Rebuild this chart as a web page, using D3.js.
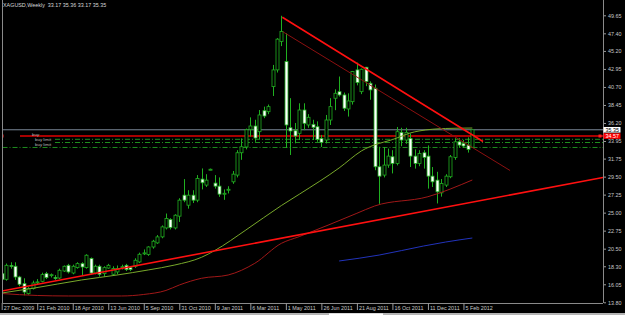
<!DOCTYPE html>
<html><head><meta charset="utf-8">
<script src="https://cdn.jsdelivr.net/npm/d3@7"></script>
<style>body{margin:0;background:#000}svg{display:block}</style>
</head><body><svg id="c" width="625" height="315"></svg>
<script>
const title = "XAGUSD,Weekly  33.17 35.36 33.17 35.35";
const opens  = [17.38,16.67,18.4,18.30,16.96,16.13,14.88,15.51,16.3,16.42,17.38,17.2,16.9,16.83,17.71,18.42,17.46,18.13,18.63,18.13,19.26,17.46,18.30,17.38,18.08,17.30,17.59,18.2,18.42,18.13,18.30,18.84,19.9,19.76,20.71,21.22,21.97,23.09,24.14,23.09,24.56,27.18,25.93,27.18,26.56,29.19,28.44,30.40,28.69,28.31,27.4,27.88,28.85,29.69,32.48,33.2,35.41,35.82,35.11,37.73,37.61,40.74,42.83,46.37,43.87,35.6,35.23,34.91,37.82,35.95,36.03,35.73,34.28,34.07,36.57,39.29,40.11,39.70,37.95,38.86,42.83,40.11,43.16,41.16,40.54,30.73,29.69,30.94,31.98,31.15,35.03,34.07,34.28,32.06,31.15,32.48,32.06,29.56,29.06,27.47,28.44,29.48,31.9,33.85,33.65,33.44,33.17];
const highs  = [17.6,18.64,18.8,18.8,17.1,16.8,15.7,16.5,16.7,17.5,17.6,17.4,17.2,18.0,18.4,18.6,18.5,18.8,18.8,19.8,19.4,18.5,18.5,18.3,18.6,18.3,18.4,18.5,18.6,18.3,19.3,20.0,20.4,20.8,21.6,22.2,23.4,24.89,24.3,24.8,26.8,29.19,27.8,27.8,29.69,30.52,29.8,30.5,29.69,29.4,27.9,28.3,30.2,32.8,34.28,35.5,36.9,36.6,37.82,38.24,38.5,43.45,46.8,49.59,47.4,39.3,36.2,38.66,38.66,37.3,36.6,36.4,34.7,37.2,39.3,40.4,42.0,40.0,39.9,42.7,43.74,43.0,43.2,41.4,41.0,33.23,33.2,33.0,32.8,35.7,35.6,35.6,34.9,32.9,32.8,32.8,33.4,30.7,30.1,29.2,29.8,32.2,34.3,34.3,34.1,34.4,35.36];
const lows   = [16.5,16.5,18.0,16.6,15.8,14.67,14.75,15.4,16.0,16.3,16.7,16.9,16.6,16.7,17.6,17.4,17.3,18.0,17.2,18.0,17.3,17.3,17.0,17.0,18.0,17.2,17.3,17.9,17.7,17.7,18.1,18.7,19.7,19.6,20.5,21.1,21.8,22.9,22.9,22.9,23.84,26.3,25.5,26.2,26.3,27.9,28.2,30.3,28.0,26.97,26.6,27.4,28.6,29.4,31.6,32.9,34.5,33.85,34.2,36.8,37.3,39.57,42.5,45.8,33.07,32.2,33.66,34.07,35.3,35.6,34.07,33.85,33.2,33.65,35.95,37.8,39.5,37.7,37.0,38.5,40.9,39.8,40.8,39.1,30.3,26.1,29.4,30.6,29.9,30.9,33.3,33.6,30.7,30.5,30.8,30.5,28.0,28.2,26.15,27.0,28.2,29.3,31.6,33.1,33.1,32.5,33.17];
const closes = [16.67,18.42,18.3,16.96,16.05,15.08,15.51,16.21,16.35,17.26,16.88,17.25,16.85,17.80,18.30,17.59,18.30,18.63,18.21,19.68,17.46,18.30,17.30,18.13,18.42,18.01,18.01,18.25,17.88,17.88,19.05,19.80,19.97,20.71,21.43,21.97,23.22,24.27,23.14,24.68,26.56,26.56,27.18,26.56,29.27,28.73,29.06,30.42,28.31,27.31,27.42,27.92,29.81,32.48,33.23,35.35,35.82,34.32,37.20,37.07,38.24,42.83,46.67,47.62,35.95,35.2,34.57,37.82,36.16,36.91,35.66,34.16,33.78,36.57,38.24,39.91,39.70,38.04,38.95,42.62,41.24,42.91,41.37,40.33,30.73,29.56,30.94,32.06,31.15,35.11,34.07,35.03,32.06,31.15,32.4,31.9,29.56,28.85,27.6,28.65,29.56,31.98,33.85,33.44,33.32,32.9,35.35];

const dateTickBars   = [0,8,16,24,32,40,48,56,64,72,80,88,96,104];
const dateTickLabels = ["27 Dec 2009","21 Feb 2010","18 Apr 2010","13 Jun 2010","5 Sep 2010","31 Oct 2010","9 Jan 2011","6 Mar 2011","1 May 2011","26 Jun 2011","21 Aug 2011","16 Oct 2011","11 Dec 2011","5 Feb 2012"];
const priceTickLabels = ["49.65","47.40","45.20","42.95","40.70","38.45","36.20","33.95","31.75","29.50","27.25","25.00","22.75","20.50","18.30","16.05","13.80"];

// moving averages [bar, value]
const maFast = [[0,14.96],[7,15.55],[18,16.59],[26,17.21],[33,17.84],[39,18.46],[45,19.42],[48,20.27],[55,22.83],[63,25.89],[67,27.29],[76,30.58],[81,32.70],[89,34.32],[92,34.95],[94,35.20],[100,35.51],[106,35.57]];
const maSlow = [[0,14.90],[8,14.65],[15,14.59],[27,14.59],[32,14.78],[37,15.28],[40,15.96],[45,16.80],[51,17.21],[57,18.67],[63,21.17],[67,22.00],[80,24.92],[84,25.83],[96,26.99],[106,29.08]];
const maLong = [[76,18.96],[85,19.70],[95,20.83],[100,21.33],[106,21.83]];

// drawn objects [bar, price]
const resistanceLine = [[63.2,49.40],[108.4,33.89]];
const channelLine    = [[63.3,47.60],[114.5,30.26]];
const supportLine    = [[0,15.20],[135,29.35]];
const bidPrice = 35.35;
const redLevel = 34.57;
const orderLevels = [34.16,33.76,33.14];
const orderLabels = ["buy","buy limit","buy limit"];

const svg = d3.select("#c");
svg.append("rect").attr("width",625).attr("height",315).attr("fill","#000");

const x = d3.scaleLinear().domain([0,135]).range([1.7,601.1]);
const y = d3.scaleLinear().domain([13.80,49.65]).range([302.3,15.3]);
const L = 2.5, R = 603, B = 303;
const font = "Liberation Sans, Arial, sans-serif";

svg.append("clipPath").attr("id","clip").append("rect").attr("x",L).attr("y",0).attr("width",R-L).attr("height",B);
const g = svg.append("g").attr("clip-path","url(#clip)");

// horizontal levels
g.append("line").attr("x1",L).attr("x2",R).attr("y1",y(bidPrice)).attr("y2",y(bidPrice)).attr("stroke","#7a8898").attr("stroke-width",1);
orderLevels.forEach((v,i)=>{
  g.append("line").attr("x1", i<2?55:L).attr("x2",R).attr("y1",y(v)).attr("y2",y(v))
   .attr("stroke","#1e8c1e").attr("stroke-width",1).attr("stroke-dasharray","5,2,1,2");
});
g.append("line").attr("x1",20).attr("x2",R).attr("y1",y(redLevel)).attr("y2",y(redLevel)).attr("stroke","#e00000").attr("stroke-width",1.6);
g.append("rect").attr("x",0.5).attr("y",y(redLevel)-1.5).attr("width",3).attr("height",3).attr("fill","#ff2020");
g.append("rect").attr("x",598.5).attr("y",y(redLevel)-1.5).attr("width",3).attr("height",3).attr("fill","#ff2020");
orderLabels.forEach((t,i)=>{
  g.append("text").attr("x", i===0?32:35).attr("y", [134.3,139.3,144.3][i]).attr("dy","0.35em")
   .attr("font-family",font).attr("font-size","4.4px").attr("fill","#b8b8b8").text(t);
});

// candles
const bars = d3.range(opens.length);
const cw = 3;
g.selectAll(".wick").data(bars).join("line")
  .attr("x1",i=>Math.round(x(i))+0.5).attr("x2",i=>Math.round(x(i))+0.5)
  .attr("y1",i=>y(highs[i])).attr("y2",i=>y(lows[i]))
  .attr("stroke","#20b020").attr("stroke-width",1);
g.selectAll(".body").data(bars).join("rect")
  .attr("x",i=>Math.round(x(i))+0.5-cw/2).attr("width",cw)
  .attr("y",i=>y(Math.max(opens[i],closes[i])))
  .attr("height",i=>Math.max(1,Math.abs(y(opens[i])-y(closes[i]))))
  .attr("fill",i=>closes[i]>=opens[i]?"#000":"#ffffff")
  .attr("stroke","#20b020").attr("stroke-width",0.8);

// moving averages
const ln = d3.line().x(d=>x(d[0])).y(d=>y(d[1])).curve(d3.curveMonotoneX);
g.append("path").attr("d",ln(maSlow)).attr("fill","none").attr("stroke","#a01818").attr("stroke-width",1);
g.append("path").attr("d",ln(maFast)).attr("fill","none").attr("stroke","#78a82a").attr("stroke-width",1);
g.append("path").attr("d",ln(maLong)).attr("fill","none").attr("stroke","#2233bb").attr("stroke-width",1);

// trend lines
const seg = d3.line().x(d=>x(d[0])).y(d=>y(d[1]));
g.append("path").attr("d",seg(channelLine)).attr("stroke","#8c1010").attr("stroke-width",1).attr("fill","none");
g.append("path").attr("d",seg(resistanceLine)).attr("stroke","#ff1010").attr("stroke-width",1.6).attr("fill","none");
const sl = (supportLine[1][1]-supportLine[0][1])/(supportLine[1][0]-supportLine[0][0]);
const b0 = x.invert(0), b1 = x.invert(R);
g.append("path").attr("d",seg([[b0,supportLine[0][1]+sl*(b0-supportLine[0][0])],[b1,supportLine[0][1]+sl*(b1-supportLine[0][0])]]))
  .attr("stroke","#ff1010").attr("stroke-width",1.6).attr("fill","none");

// frame
svg.append("line").attr("x1",L).attr("x2",L).attr("y1",0).attr("y2",B).attr("stroke","#8a8a8a");
svg.append("line").attr("x1",R+0.5).attr("x2",R+0.5).attr("y1",0).attr("y2",B).attr("stroke","#8a8a8a");
svg.append("line").attr("x1",L).attr("x2",R).attr("y1",B+0.5).attr("y2",B+0.5).attr("stroke","#8a8a8a");

// price axis
const ya = d3.axisRight(y).tickValues(priceTickLabels.map(Number)).tickFormat((d,i)=>priceTickLabels[i]).tickSize(2).tickPadding(2);
const yg = svg.append("g").attr("transform",`translate(${R+1},0)`).call(ya);
yg.select(".domain").remove();
yg.selectAll("line").attr("stroke","#9a9a9a");
yg.selectAll("text").attr("fill","#c8c8c8").attr("font-family",font).attr("font-size","5.4px");

// price boxes
svg.append("rect").attr("x",R+0.5).attr("y",y(bidPrice)-2.8).attr("width",17).attr("height",5.6).attr("fill","#ffffff");
svg.append("text").attr("x",R+2.5).attr("y",y(bidPrice)).attr("dy","0.35em").attr("font-family",font).attr("font-size","5.4px").attr("fill","#000").text(bidPrice.toFixed(2));
svg.append("rect").attr("x",R+0.5).attr("y",y(redLevel)-2.8).attr("width",17).attr("height",5.6).attr("fill","#ff0000");
svg.append("text").attr("x",R+2.5).attr("y",y(redLevel)).attr("dy","0.35em").attr("font-family",font).attr("font-size","5.4px").attr("fill","#fff").text(redLevel.toFixed(2));

// date axis
const xa = d3.axisBottom(x).tickValues(dateTickBars).tickFormat((d,i)=>dateTickLabels[i]).tickSize(7);
const xg = svg.append("g").attr("transform",`translate(0,${B})`).call(xa);
xg.select(".domain").remove();
xg.selectAll("line").attr("stroke","#9a9a9a");
xg.selectAll("text").attr("fill","#c8c8c8").attr("font-family",font).attr("font-size","5.4px")
  .attr("text-anchor","start").attr("x",1.5).attr("y",5).attr("dy","0.35em");

// title
svg.append("text").attr("x",3).attr("y",5.5).attr("dy","0.35em").attr("font-family",font).attr("font-size","5.4px").attr("fill","#d8d8d8").attr("xml:space","preserve").style("white-space","pre").text(title);

// bottom tab strip
svg.append("rect").attr("x",0).attr("y",313).attr("width",625).attr("height",2).attr("fill","#b4b4b4");
svg.append("rect").attr("x",329).attr("y",313.5).attr("width",54).attr("height",1.5).attr("fill","#ffffff");
</script></body></html>
